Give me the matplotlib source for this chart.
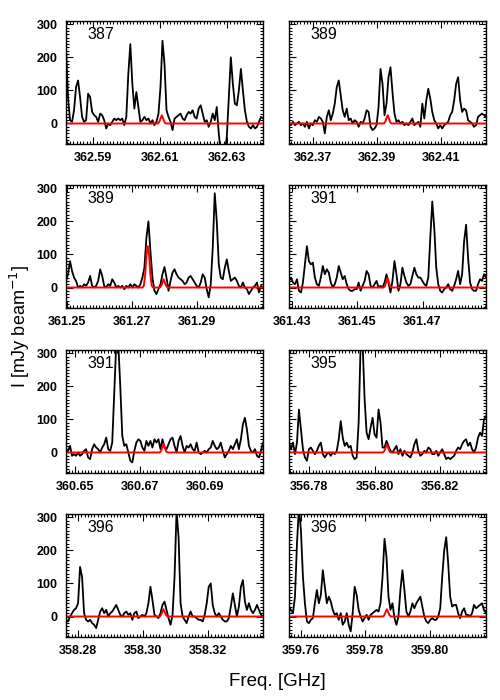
import matplotlib
matplotlib.use("Agg")
import matplotlib.pyplot as plt
import numpy as np
from matplotlib.ticker import MultipleLocator, FixedLocator, FixedFormatter
from matplotlib.font_manager import FontProperties

# panel labels and frequency windows (GHz)
labels = ["387", "389", "389", "391", "391", "395", "396", "396"]
xlims = [(362.5818, 362.6408), (362.3624, 362.4241),
         (361.2497, 361.3104), (361.4292, 361.4894),
         (360.6472, 360.7078), (356.7738, 356.8340),
         (358.2763, 358.3369), (359.7563, 359.8175)]
xtick_labels = [["362.59", "362.61", "362.63"], ["362.37", "362.39", "362.41"],
                ["361.25", "361.27", "361.29"], ["361.43", "361.45", "361.47"],
                ["360.65", "360.67", "360.69"], ["356.78", "356.80", "356.82"],
                ["358.28", "358.30", "358.32"], ["359.76", "359.78", "359.80"]]

# observed spectra (mJy/beam), one value per channel across the window
spec_387 = [230, 80, 10, 5, 40, 110, 130, 80, 20, 5, 10, 90, 80, 35, 25, 20, 5, 30, 25, 10,
            -15, 0, -5, 5, 15, 10, 15, 10, 15, -5, 20, 150, 240, 120, 45, 95, 50, 5, 10, 20,
            10, 15, 0, 10, -5, 5, 30, 110, 250, 180, 40, 20, 5, -20, 15, 20, 25, 30, 15, 10,
            25, 35, 30, 40, 20, 15, 45, 55, 30, 5, 10, -10, 5, 30, 10, 50, -30, -90, -90, -90,
            -40, 80, 200, 120, 60, 55, 100, 165, 100, 40, 5, -10, -15, -5, -15, -10, 5, 20, 15]
spec_389a = [0, -5, 5, -5, 0, 5, -5, 0, -10, 5, -15, 0, -5, 10, 5, 20, 15, 5, -30, 20,
             40, 10, 30, 60, 110, 130, 85, 40, 20, 45, 10, 15, 0, 10, 5, -10, 5, 0, 15, 40,
             35, -10, -20, -15, -5, 50, 165, 120, 25, 60, 140, 170, 95, 30, 5, 10, 0, 5, -5, 0,
             -5, 5, 15, -5, 0, 5, -10, 60, 15, 70, 105, 75, 35, 10, 0, -15, -5, -15, -5, 0,
             5, 25, 35, 70, 120, 140, 70, 35, 45, 40, 10, 5, 0, -10, -5, 20, 25, 30, 25, 20]
spec_389b = [20, 40, 80, 50, 30, 20, 0, 5, 0, 10, 5, 15, 35, 5, 0, 5, 20, 55, 35, 5,
             0, 10, 5, 25, 15, 0, 5, 0, 5, -5, 5, 0, 10, 0, 10, 5, 0, 10, 30, 60,
             150, 200, 110, 30, -10, -20, -5, 10, 40, 62, 30, -10, 20, 45, 55, 40, 30, 25, 20, 10,
             15, 30, 35, 25, 15, 5, 0, 15, 40, 30, -5, -30, 10, 120, 285, 200, 70, 30, 25, 60,
             85, 50, 20, 25, 30, 20, 5, 0, 15, 0, -5, -20, -10, 0, 5, 15, -15, 5, 0]
spec_391a = [20, 30, 15, 10, 25, -10, -15, 15, 70, 125, 80, 70, 75, 30, 10, 5, 30, 65, 40, 55,
             45, 15, 0, 10, 30, 65, 45, 25, 35, 10, -5, -10, -10, -5, -5, 15, -10, 5, 20, 50,
             40, 5, 0, 10, 20, 0, 5, 0, 15, 40, 15, -15, 20, 80, 40, -10, 10, 60, 35, 15,
             5, 10, 35, 60, 40, 30, 30, 20, 10, 5, 30, 150, 260, 180, 60, 10, -10, -15, -5, 0,
             10, -5, -10, 5, 25, 50, 10, 40, 140, 190, 90, 15, -5, -10, -10, 10, 25, 20, 40, 30]
spec_391b = [0, 5, 20, -10, -5, -10, 0, -10, -5, 5, 10, -15, -20, 10, 25, 15, 10, 0, 15, 25,
             45, 10, 5, 30, 180, 330, 330, 200, 50, 20, 25, 0, -25, -30, 5, 30, 40, 35, 15, 5,
             35, 20, 35, 15, 40, 30, 40, 10, 40, 15, 10, 25, 40, 45, 20, 0, 35, 50, 20, 0,
             20, 15, 25, 10, 5, 30, 0, -5, 0, 5, 0, 10, 15, 35, 20, 10, 15, 30, 5, -15,
             -5, 5, 20, 10, 25, 40, 10, 40, 85, 105, 70, 20, 5, 0, 10, -10, -15, 5, 30]
spec_395 = [30, 10, 30, -5, 30, 130, 70, 10, -15, -25, 10, 15, 5, -5, 5, 20, 30, -5, -15, -5,
            0, -10, 0, -5, 5, 40, 95, 45, 20, 30, 15, 20, -10, -20, -15, 90, 330, 330, 160, 60,
            40, 75, 105, 55, 45, 130, 90, 15, 15, 35, 20, 5, 0, 10, 20, -5, 10, -10, 5, -5,
            -10, -15, 0, 25, 40, 5, -10, -5, 5, 0, 15, 10, -5, -5, 5, -10, 0, 10, -5, -20,
            -15, -20, -15, -10, 5, 15, 10, 25, 35, 40, 20, 30, 10, 0, 15, 45, 60, 50, 100, 110]
spec_396a = [-10, -15, 0, 10, 20, 25, 40, 150, 120, 10, -10, -15, -10, -20, -25, -35, -10, 15, 25, 10,
             20, 0, 10, 15, 25, 35, 20, 5, 0, 10, 15, 5, 10, -10, 10, 15, -5, 0, 5, 0,
             10, 40, 90, 50, 5, 0, -5, 10, 35, 45, 20, -5, -25, 5, 120, 320, 240, 40, 0, -10,
             -20, 0, 15, 0, 0, -5, -10, -10, -15, 5, 40, 90, 100, 35, 10, 0, 10, 0, -10, -15,
             -15, -5, 30, 70, 35, 0, 30, 90, 110, 45, 20, 40, 20, 10, 20, 35, 20, 5, 0]
spec_396b = [30, 20, 10, 60, 220, 330, 260, 120, 40, -15, -20, -10, -5, 40, 80, 40, 65, 140, 90, 40,
             60, 45, 20, 5, 10, -10, 10, -25, -15, 10, -25, -45, 10, 90, 65, 20, 0, -15, -5, 5,
             -10, 5, 10, 15, 20, 15, 40, 120, 235, 180, 60, 20, 40, -5, -25, 0, 80, 140, 80, 15,
             0, 15, 40, 25, 40, 50, 60, 30, 0, -15, -20, -10, -5, -10, -10, 0, 25, 120, 200, 240,
             160, 60, 30, 35, 35, 10, -5, 15, 25, 5, 5, 0, 10, 35, 25, 30, 35, 40, 20, 10]
spectra = [spec_387, spec_389a, spec_389b, spec_391a, spec_391b, spec_395, spec_396a, spec_396b]

# fitted model (red), frequency / intensity pairs
model_f = [
    [362.5818, 362.6093, 362.6097, 362.6101, 362.6105, 362.6109, 362.6113, 362.6117, 362.6408],
    [362.3624, 362.3921, 362.3925, 362.3929, 362.3933, 362.3937, 362.3941, 362.3945, 362.4241],
    [361.2497, 361.2733, 361.2737, 361.2741, 361.2745, 361.2749, 361.2753, 361.2757, 361.2761,
     361.2765, 361.2786, 361.2790, 361.2794, 361.2798, 361.2802, 361.2806, 361.2810, 361.3104],
    [361.4292, 361.4581, 361.4585, 361.4589, 361.4593, 361.4597, 361.4601, 361.4605, 361.4894],
    [360.6472, 360.6760, 360.6764, 360.6768, 360.6772, 360.6776, 360.6780, 360.6784, 360.7078],
    [356.7738, 356.8025, 356.8029, 356.8033, 356.8037, 356.8041, 356.8045, 356.8049, 356.8340],
    [358.2763, 358.3051, 358.3055, 358.3059, 358.3063, 358.3067, 358.3071, 358.3075, 358.3369],
    [359.7563, 359.7855, 359.7859, 359.7863, 359.7867, 359.7871, 359.7875, 359.7879, 359.8175],
]
model_v = [
    [0, 0, 4, 15, 25, 15, 4, 0, 0],
    [0, 0, 4, 15, 25, 15, 4, 0, 0],
    [0, 0, 6, 40, 100, 125, 100, 40, 6, 0, 0, 4, 14, 25, 14, 4, 0, 0],
    [0, 0, 4, 16, 28, 16, 4, 0, 0],
    [0, 0, 4, 15, 27, 15, 4, 0, 0],
    [0, 0, 4, 14, 25, 14, 4, 0, 0],
    [0, 0, 4, 13, 22, 13, 4, 0, 0],
    [0, 0, 4, 13, 22, 13, 4, 0, 0],
]

fig = plt.figure(figsize=(5, 7), dpi=100)

col_x = [0.132, 0.578]
row_y = [0.7943, 0.56, 0.3243, 0.09]
w, h = 0.394, 0.1757

tick_fp = FontProperties(family="Liberation Sans", weight="bold", size=9)

for k in range(8):
    r, c = divmod(k, 2)
    ax = fig.add_axes([col_x[c], row_y[r], w, h])
    lo, hi = xlims[k]
    y = np.array(spectra[k], dtype=float)
    freq = np.linspace(lo, hi, len(y))
    ax.plot(freq, y, color="black", lw=1.3)
    ax.plot(model_f[k], model_v[k], color="red", lw=1.4)
    ax.set_xlim(lo, hi)
    ax.set_ylim(-62, 310)

    ticks = [float(t) for t in xtick_labels[k]]
    ax.xaxis.set_major_locator(FixedLocator(ticks))
    ax.xaxis.set_major_formatter(FixedFormatter(xtick_labels[k]))
    ax.xaxis.set_minor_locator(MultipleLocator(0.001))
    ax.yaxis.set_major_locator(MultipleLocator(100))
    ax.yaxis.set_minor_locator(MultipleLocator(10))
    ax.tick_params(which="both", direction="in", top=True, right=True, width=0.8)
    ax.tick_params(which="major", length=5, pad=6)
    ax.tick_params(which="minor", length=2)
    for lab in ax.get_xticklabels() + ax.get_yticklabels():
        lab.set_fontproperties(tick_fp)
    if c == 1:
        ax.set_yticklabels([])
    for s in ax.spines.values():
        s.set_linewidth(1.0)
    ax.text(0.11, 0.95, labels[k], transform=ax.transAxes, ha="left", va="top",
            fontsize=11.5, family="Liberation Sans")

fig.text(0.04, 0.533, "I [mJy beam$^{-1}$]", rotation=90, ha="center", va="center",
         fontsize=13, family="Liberation Sans")
fig.text(0.554, 0.027, "Freq. [GHz]", ha="center", va="center",
         fontsize=13.5, family="Liberation Sans")

fig.savefig("out.png", dpi=100)
